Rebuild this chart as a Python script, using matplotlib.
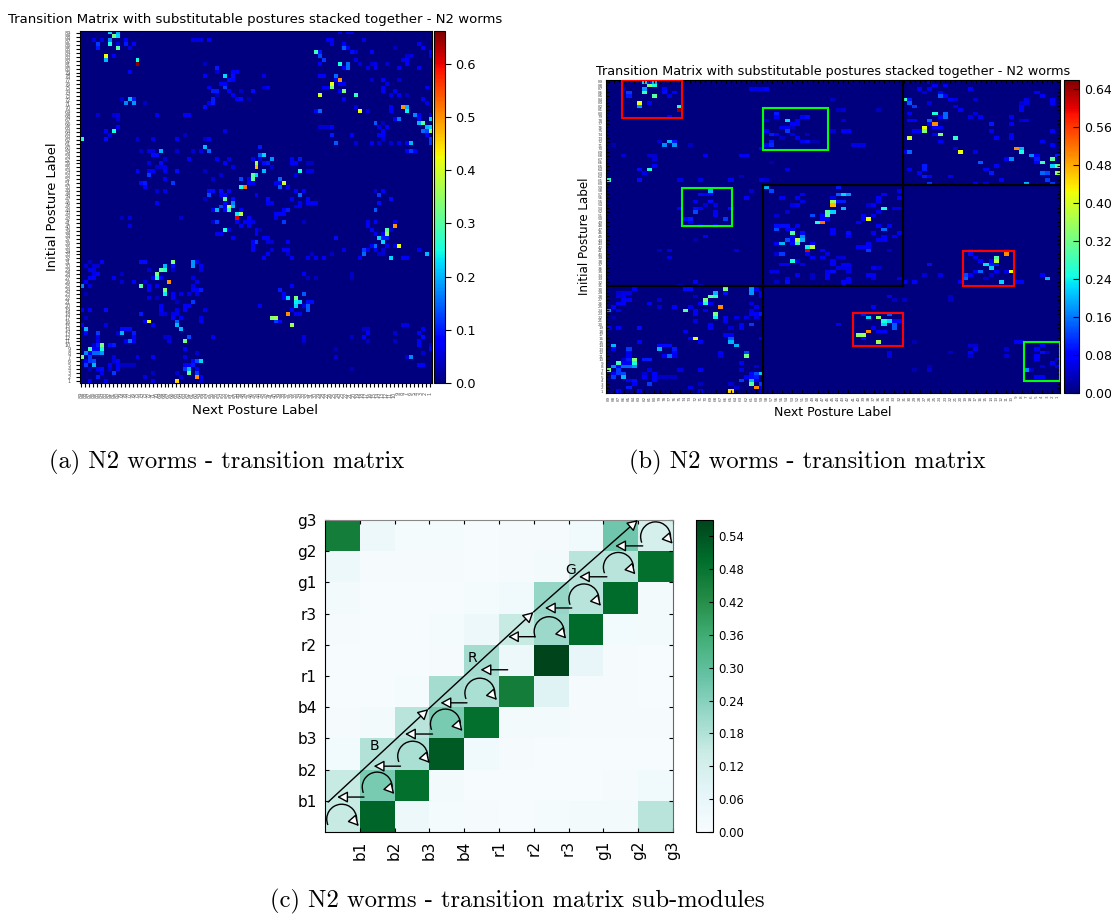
import matplotlib
matplotlib.use('Agg')
import matplotlib.pyplot as plt
from matplotlib.patches import Arc, Rectangle
import numpy as np

W, H = 1111, 914
N = 89

# (row from the top, column, probability)
a_top_left = [
    (0,7,.22),(0,9,.2),(1,8,.33),(1,9,.22),(2,7,.17),(3,7,.25),(3,4,.12),(4,4,.1),(4,9,.3),
    (2,11,.08),(3,11,.1),(3,13,.08),(3,9,.06),(4,12,.06),(2,3,.06),(2,5,.06),(6,6,.42),(7,6,.2),
    (6,8,.07),(7,14,.25),(8,14,.65),(10,12,.08),(17,12,.2),(17,13,.1),(17,10,.05),(18,11,.17),
    (18,13,.18),(18,16,.04),(21,4,.05),(21,9,.06),(21,8,.05),(21,19,.07),(21,26,.08),(21,27,.08),
    (22,9,.05),(24,9,.08),(25,6,.08),(25,8,.25),(26,7,.06),(27,0,.27),(27,6,.09),(27,14,.05),
    (27,18,.06),(27,24,.08),(26,26,.04),(2,28,.06),(2,29,.06),(2,30,.06),
]
a_top_mid = [
    (2,32,.08),(8,31,.04),(9,34,.1),(10,34,.05),(10,38,.08),(10,39,.08),(11,36,.22),(11,31,.08),
    (11,38,.09),(11,46,.06),(12,37,.09),(12,38,.08),(13,35,.08),(13,36,.07),(14,36,.12),(14,32,.08),
    (14,46,.05),(14,47,.08),(15,33,.1),(15,34,.1),(15,37,.08),(15,43,.09),(15,40,.04),(16,38,.07),
    (16,34,.04),(17,39,.08),(17,40,.09),(17,42,.03),(17,33,.1),(18,33,.1),(18,32,.07),(19,31,.09),
    (25,36,.06),(27,31,.05),(27,32,.07),
]
a_top_right = [
    (5,59,.28),(5,60,.1),(6,60,.13),(7,61,.12),(8,60,.08),(8,65,.25),(8,67,.15),(9,67,.15),(9,66,.07),
    (11,64,.15),(11,60,.08),(11,61,.08),(12,65,.5),(12,64,.08),(13,63,.42),(13,65,.07),(13,66,.07),
    (14,63,.33),(14,61,.07),(14,62,.07),(15,66,.33),(15,65,.08),(16,60,.4),(16,69,.27),(17,66,.07),
    (20,70,.42),(20,60,.15),(20,59,.08),(19,69,.06),(20,72,.06),(0,65,.07),(0,67,.07),(0,68,.07),
    (2,62,.07),(2,63,.07),(2,71,.06),(3,66,.08),(4,66,.14),(4,67,.08),(5,68,.09),(5,69,.06),(5,73,.08),
    (3,63,.07),(7,69,.06),(8,70,.05),(8,73,.05),(9,74,.07),(9,72,.06),(8,74,.06),(8,77,.05),(9,80,.07),
    (7,81,.06),(7,82,.07),(6,83,.06),(6,82,.05),(3,85,.07),(4,86,.08),(4,79,.04),(9,85,.07),(8,82,.07),
    (5,88,.08),(6,88,.06),(12,76,.08),(13,77,.06),(12,80,.05),(12,73,.05),(14,76,.07),(15,76,.07),
    (15,79,.07),(16,82,.04),(16,78,.06),(16,80,.07),(14,87,.07),(19,78,.08),(20,78,.07),(19,81,.5),
    (19,82,.2),(20,82,.24),(17,86,.07),(18,87,.06),(21,84,.17),(21,85,.08),(21,88,.06),(22,80,.16),
    (22,79,.08),(22,85,.09),(22,88,.22),(23,74,.14),(23,85,.2),(23,86,.3),(24,77,.08),(23,76,.04),
    (24,87,.2),(24,88,.22),(24,63,.08),(24,60,.05),(24,61,.05),(24,62,.05),(24,75,.06),(25,86,.15),
    (25,87,.13),(25,88,.35),(25,76,.08),(26,75,.08),(26,76,.08),(26,63,.1),(26,68,.07),(26,87,.08),
    (27,88,.12),(28,64,.14),(28,69,.05),(28,73,.07),(28,75,.05),(27,76,.05),(28,78,.05),(28,80,.06),
    (28,83,.2),(28,82,.07),(30,83,.12),(30,84,.08),(30,82,.07),(28,88,.12),
]
a_mid_left = [
    (29,31,.2),(30,32,.15),(30,20,.2),(31,19,.09),(31,18,.09),(30,17,.06),(30,18,.06),(30,15,.04),
    (30,24,.05),(30,28,.05),(30,30,.06),(32,34,.07),(32,37,.06),(32,27,.08),(32,21,.05),(33,17,.06),
    (33,20,.09),(34,21,.06),(34,19,.05),(34,20,.05),(33,36,.08),(34,38,.06),(35,14,.07),(35,17,.08),
    (35,18,.08),(35,21,.07),(35,24,.09),(35,31,.04),(36,17,.12),(37,33,.05),(36,35,.05),(38,15,.09),
    (38,16,.1),(38,23,.12),(37,21,.07),(39,16,.07),(40,19,.05),(40,21,.06),(40,32,.09),(40,33,.09),
    (40,35,.09),(40,37,.07),(41,32,.13),(41,35,.07),(41,36,.08),(42,36,.3),(42,38,.09),(42,31,.04),
    (43,19,.08),(43,36,.08),(43,38,.17),(44,37,.38),(44,38,.2),(44,35,.13),(44,36,.07),(45,34,.2),
    (45,33,.08),(45,37,.27),(45,40,.08),(45,36,.09),(46,39,.24),(46,40,.38),(47,39,.6),(47,42,.08),
    (47,12,.06),(47,10,.04),(47,25,.05),(48,33,.05),(48,34,.12),(48,39,.08),(48,42,.07),(48,43,.06),
    (49,12,.06),(49,40,.08),(49,42,.08),(50,36,.25),(50,37,.06),(51,34,.07),(51,35,.07),(52,38,.07),
]
a_mid_mid = [
    (29,45,.1),(31,45,.14),(31,46,.22),(32,48,.18),(32,45,.06),(32,43,.07),(33,44,.36),(34,44,.47),
    (33,46,.09),(33,47,.1),(35,46,.2),(34,48,.05),(36,43,.3),(36,44,.22),(37,43,.3),(37,40,.13),
    (37,42,.08),(37,50,.15),(38,51,.4),(38,50,.07),(38,43,.07),(38,42,.08),(38,49,.07),(39,40,.25),
    (39,41,.52),(39,50,.14),(39,52,.07),(35,55,.25),(32,55,.1),(32,53,.08),(33,54,.08),(33,53,.07),
    (33,57,.04),(33,58,.04),(35,57,.06),(35,58,.06),(36,54,.06),(41,44,.07),(41,55,.15),(40,54,.08),
    (40,56,.08),(42,47,.09),(42,53,.07),(42,57,.08),(43,58,.07),(43,59,.07),(43,57,.07),(43,55,.07),
    (43,47,.07),(43,48,.07),(44,54,.06),(44,55,.07),(45,51,.08),(45,52,.1),(46,49,.08),(46,50,.08),
    (46,51,.08),(47,49,.06),(48,51,.12),(48,56,.04),(48,41,.07),(50,44,.07),(50,45,.03),(51,44,.08),
    (52,46,.07),(52,47,.07),(53,43,.08),(53,44,.12),(53,47,.06),(53,48,.05),(53,52,.07),(54,43,.08),
    (55,43,.08),(55,51,.07),(55,52,.07),(55,48,.05),(56,47,.08),(56,52,.05),(57,46,.08),(57,53,.07),
    (57,57,.07),(57,59,.07),(57,61,.08),(56,58,.04),(56,63,.04),(52,64,.09),(55,66,.06),
]
a_right_low = [
    (41,75,.12),(43,75,.09),(40,76,.08),(42,78,.09),(45,74,.14),(40,74,.05),(48,72,.07),(48,74,.08),
    (48,79,.07),(49,72,.08),(49,79,.5),(50,73,.08),(50,77,.3),(50,78,.05),(51,77,.35),(51,74,.07),
    (51,76,.08),(52,75,.22),(52,76,.1),(52,77,.1),(53,76,.22),(54,73,.08),(54,74,.15),(54,77,.07),
    (54,79,.06),(54,80,.42),(55,71,.12),(55,72,.08),(55,74,.08),(55,76,.05),(55,85,.07),(56,71,.15),
    (56,75,.05),(56,76,.05),(56,87,.2),(57,78,.22),(57,70,.07),(57,81,.08),(57,82,.08),(74,81,.06),
    (74,82,.06),(75,86,.07),(75,71,.04),(75,72,.05),(76,85,.08),(76,72,.08),(76,79,.05),(77,71,.08),
    (77,86,.09),(78,72,.04),(78,79,.04),(78,85,.08),(79,85,.08),(79,88,.05),(80,88,.08),(81,86,.05),
    (82,83,.17),(82,82,.05),(84,85,.08),(84,86,.08),(77,68,.04),(82,64,.05),(85,68,.03),(80,64,.03),
]
a_low_mid = [
    (61,56,.07),(62,57,.04),(62,59,.04),(61,68,.04),(62,68,.04),(64,53,.08),(65,50,.1),(66,51,.08),
    (66,56,.14),(67,52,.22),(67,54,.33),(67,51,.07),(68,54,.24),(68,55,.22),(68,57,.09),(68,58,.09),
    (69,54,.22),(69,56,.06),(69,57,.14),(70,57,.14),(70,53,.08),(69,45,.07),(71,52,.5),(71,54,.06),
    (71,55,.08),(72,48,.34),(72,49,.36),(73,49,.12),(73,50,.09),(74,53,.36),(77,56,.06),(78,56,.05),
    (50,44,.07),(50,45,.03),(52,64,.09),
]
a_low_left = [
    (58,15,.09),(58,16,.09),(58,23,.33),(58,28,.18),(58,29,.07),(58,5,.07),(58,2,.04),(59,1,.05),
    (59,3,.05),(59,4,.05),(59,21,.2),(59,23,.09),(59,28,.18),(59,30,.07),(60,2,.06),(60,3,.06),
    (60,20,.3),(60,21,.26),(60,17,.05),(60,23,.05),(60,30,.06),(61,3,.06),(61,4,.08),(61,19,.33),
    (61,10,.04),(62,2,.08),(62,3,.08),(62,8,.07),(62,18,.08),(62,19,.26),(62,20,.08),(62,28,.06),
    (63,1,.08),(63,10,.05),(63,13,.08),(63,16,.06),(63,22,.5),(63,29,.06),(64,0,.17),(64,2,.06),
    (64,15,.3),(64,17,.08),(64,19,.07),(64,28,.06),(65,17,.08),(65,21,.33),(65,30,.1),(65,28,.07),
    (65,29,.07),(66,21,.24),(66,23,.07),(66,25,.06),(66,27,.06),(66,29,.06),(66,1,.03),(67,17,.06),
    (67,23,.07),(67,19,.04),(68,28,.12),(68,24,.04),(69,20,.08),(69,27,.08),(69,26,.08),(70,0,.08),
    (70,2,.08),(70,6,.09),(70,20,.08),(70,24,.06),(70,26,.08),(70,31,.06),(71,15,.1),(71,20,.06),
    (71,21,.05),(71,23,.06),(71,24,.06),(72,1,.04),(72,23,.08),(72,25,.08),(72,30,.06),(73,16,.08),
    (73,17,.42),(73,24,.14),(73,30,.07),(74,0,.07),(74,6,.06),(74,18,.08),(74,24,.2),(75,1,.2),
    (75,10,.09),(75,11,.09),(75,12,.09),(75,25,.2),(76,1,.08),(76,4,.12),(76,10,.2),(76,13,.1),
    (76,9,.05),(77,4,.06),(77,13,.08),(77,21,.05),(77,22,.05),(77,27,.13),(77,33,.07),(78,4,.07),
    (78,11,.07),(78,12,.15),(78,13,.07),(78,22,.06),(78,26,.32),(79,3,.05),(79,4,.1),(79,5,.33),
    (79,7,.09),(79,8,.1),(80,3,.07),(80,2,.28),(80,4,.07),(80,5,.25),(80,26,.07),(81,1,.17),(81,2,.08),
    (81,3,.15),(81,4,.15),(81,5,.18),(81,29,.05),(82,0,.33),(82,2,.12),(82,8,.06),(82,14,.06),
    (82,18,.08),(82,26,.06),(83,1,.07),(83,2,.12),(83,3,.13),(83,9,.08),(83,8,.05),(83,28,.09),
    (83,29,.13),(83,30,.22),(84,1,.12),(84,3,.2),(84,7,.07),(84,9,.07),(84,10,.04),(84,11,.04),
    (84,12,.04),(84,13,.04),(84,26,.07),(84,27,.08),(84,28,.1),(85,4,.07),(85,5,.09),(85,7,.05),
    (85,9,.08),(85,2,.04),(85,26,.12),(85,27,.2),(85,29,.07),(86,5,.07),(86,8,.12),(86,27,.3),
    (86,29,.12),(86,18,.04),(86,24,.05),(87,4,.1),(87,29,.5),(87,30,.08),(87,16,.06),(87,25,.05),
    (88,2,.07),(88,6,.07),(88,24,.45),(88,18,.06),(88,30,.05),
]
a_cells = [a_top_left, a_top_mid, a_top_right, a_mid_left, a_mid_mid, a_right_low, a_low_mid, a_low_left]

# same kind of triples for panel (b), reordered postures
b_block_11 = [
    (0,7,.22),(0,8,.1),(0,9,.2),(1,8,.33),(1,9,.25),(2,7,.18),(2,11,.08),(2,3,.03),(3,4,.12),(3,7,.28),
    (3,11,.09),(3,13,.08),(4,4,.1),(4,9,.3),(4,12,.06),(6,6,.42),(6,8,.08),(7,6,.18),(7,14,.25),
    (8,14,.65),(10,12,.08),(17,10,.05),(17,12,.2),(17,13,.1),(18,11,.17),(18,13,.18),(18,16,.04),
    (18,1,.03),(21,3,.05),(21,8,.05),(21,9,.05),(21,19,.07),(21,26,.08),(21,27,.08),(22,9,.05),
    (24,9,.08),(25,6,.09),(25,8,.25),(26,7,.06),(28,0,.27),(28,6,.09),(28,14,.06),(28,18,.06),
    (28,24,.08),(27,26,.04),(2,28,.06),(2,29,.06),(2,30,.06),
    (31,20,.2),(32,18,.09),(32,19,.08),(32,20,.08),(34,17,.07),(34,20,.09),(35,21,.06),(35,19,.05),
    (36,17,.09),(36,18,.08),(36,24,.09),(36,14,.07),(37,17,.13),(37,21,.07),(38,21,.07),(39,15,.09),
    (39,16,.1),(39,23,.12),(40,16,.07),(41,18,.05),(41,21,.06),(44,19,.08),(45,17,.03),(33,27,.08),
    (31,28,.05),(48,12,.06),(48,10,.04),(48,25,.05),(50,12,.06),(57,17,.08),(58,18,.05),(58,14,.04),
]
b_block_12 = [
    (2,31,.08),(9,33,.1),(10,33,.07),(10,38,.08),(10,39,.09),(11,35,.22),(11,37,.08),(11,31,.05),
    (12,36,.08),(12,37,.07),(13,34,.07),(13,35,.08),(13,36,.04),(14,35,.12),(14,31,.08),(15,33,.08),
    (15,32,.1),(15,36,.06),(15,39,.04),(16,37,.07),(16,34,.04),(17,38,.07),(17,39,.09),(17,32,.1),
    (17,40,.03),(17,41,.03),(18,32,.11),(18,31,.08),(19,30,.08),(5,44,.04),(8,45,.04),(14,44,.05),
    (14,46,.07),(8,46,.05),(8,53,.04),(11,46,.05),(14,47,.07),(18,48,.06),(18,49,.06),(18,50,.06),
    (25,35,.06),(23,32,.03),(28,31,.05),(28,30,.06),
]
b_block_13 = [
    (0,63,.05),(1,64,.07),(1,66,.07),(2,61,.07),(2,63,.07),(2,71,.07),(3,65,.08),(3,62,.05),(4,65,.14),
    (4,66,.08),(5,67,.08),(5,68,.06),(5,72,.05),(5,58,.28),(5,59,.1),(6,59,.14),(7,60,.12),(6,63,.06),
    (7,68,.06),(8,69,.07),(9,59,.07),(9,64,.25),(9,66,.15),(10,66,.15),(10,65,.07),(9,72,.06),(10,73,.07),
    (10,71,.06),(11,63,.15),(11,59,.08),(11,60,.08),(12,64,.5),(12,63,.08),(13,62,.42),(13,64,.07),
    (13,65,.07),(14,62,.33),(14,60,.07),(14,61,.07),(15,65,.33),(15,64,.07),(16,59,.4),(16,68,.27),
    (17,65,.07),(20,69,.42),(20,59,.15),(20,58,.08),(19,68,.05),(20,72,.06),(12,75,.1),(12,79,.07),
    (11,82,.06),(11,81,.05),(10,79,.07),(16,76,.08),(15,79,.07),(16,79,.08),(14,75,.06),(14,87,.07),
    (17,85,.07),(18,87,.07),(5,82,.06),(6,81,.05),(6,82,.06),(7,81,.07),(8,81,.08),(3,84,.07),(4,85,.08),
    (5,87,.08),(6,87,.07),(19,80,.5),(19,81,.2),(20,81,.25),(22,78,.08),(22,79,.17),(21,83,.17),(22,84,.1),
    (21,84,.08),(22,87,.3),(23,85,.28),(23,84,.08),(23,73,.14),(24,76,.08),(24,87,.22),(24,88,.3),(25,74,.08),
    (26,75,.1),(26,85,.15),(26,86,.13),(26,88,.35),(28,86,.12),(29,82,.2),(25,59,.07),(24,62,.1),(25,62,.1),
    (26,61,.07),(27,62,.1),(27,63,.08),(27,67,.07),(29,63,.12),(29,72,.07),(29,74,.05),(28,77,.07),
    (29,87,.12),(21,88,.1),(55,65,.06),(52,63,.09),(57,69,.07),(57,80,.08),(57,81,.08),(56,86,.2),
    (55,85,.07),(57,58,.08),(57,60,.08),(55,62,.05),
    (48,71,.07),(48,73,.07),(48,78,.08),(49,71,.09),(49,78,.5),(50,72,.08),(51,73,.07),(50,76,.3),(51,76,.38),
    (51,75,.08),(52,74,.23),(52,75,.1),(52,76,.1),(53,75,.22),(54,72,.08),(54,73,.15),(54,76,.07),(54,78,.06),
    (54,79,.42),(55,71,.08),(55,70,.13),(55,75,.05),(56,70,.15),(56,74,.05),(57,77,.22),
]
b_block_22 = [
    (30,31,.2),(31,32,.13),(30,45,.1),(32,45,.14),(32,46,.22),(32,47,.18),(33,44,.06),(33,34,.07),(33,37,.07),
    (32,38,.07),(34,44,.36),(35,44,.47),(34,45,.1),(34,46,.1),(35,36,.06),(35,37,.08),(34,38,.06),(36,46,.2),
    (37,43,.3),(37,44,.22),(38,43,.3),(38,40,.13),(38,42,.08),(37,35,.05),(38,33,.05),(39,42,.07),(39,43,.07),
    (40,41,.25),(40,42,.52),(41,33,.09),(41,34,.09),(41,35,.09),(41,37,.07),(42,33,.13),(42,35,.07),(42,36,.08),
    (42,44,.07),(43,44,.07),(43,36,.3),(43,38,.09),(43,47,.09),(44,36,.07),(44,38,.17),(44,47,.07),(45,37,.38),
    (45,38,.2),(45,35,.13),(45,36,.07),(46,34,.2),(46,36,.09),(46,37,.27),(46,40,.08),(46,33,.08),(47,39,.24),
    (47,40,.38),(48,39,.6),(48,42,.08),(49,43,.06),(49,33,.05),(49,34,.12),(49,39,.08),(50,42,.07),(50,40,.08),
    (51,36,.25),(51,37,.06),(51,44,.07),(52,34,.07),(52,35,.07),(52,38,.06),(52,44,.08),(53,46,.06),(53,45,.06),
    (54,32,.06),(54,33,.06),(55,37,.07),(54,43,.07),(54,44,.09),(54,47,.06),(55,43,.08),(56,43,.08),(55,40,.04),
    (56,40,.04),(57,33,.04),(57,35,.09),(56,35,.07),(57,47,.07),(58,46,.07),
    (34,53,.06),(36,54,.25),(33,53,.08),(32,54,.08),(35,51,.05),(35,52,.07),(33,57,.07),(31,57,.06),(36,57,.06),
    (36,56,.06),(37,53,.06),(38,50,.08),(38,52,.07),(39,51,.42),(39,50,.07),(40,49,.07),(42,54,.15),(41,53,.08),
    (41,55,.08),(43,52,.07),(43,57,.08),(44,54,.07),(44,56,.07),(46,51,.08),(45,53,.07),(45,54,.07),(47,49,.08),
    (47,50,.08),(47,51,.08),(48,51,.12),(48,55,.04),(50,45,.05),(50,46,.05),(52,46,.07),(52,47,.07),(53,47,.06),
    (53,52,.07),(53,53,.05),(55,51,.07),(55,52,.07),(56,52,.06),(56,47,.08),(57,46,.08),(56,57,.06),
]
b_block_23 = [
    (61,55,.07),(62,56,.04),(62,58,.04),(61,67,.04),(62,67,.04),(64,52,.08),(66,50,.1),(67,51,.22),(67,53,.34),
    (66,55,.14),(68,54,.25),(68,55,.22),(68,56,.09),(68,57,.09),(69,54,.22),(69,56,.14),(70,56,.14),(69,45,.07),
    (70,52,.08),(71,51,.5),(71,53,.07),(71,54,.08),(72,49,.34),(72,50,.36),(73,50,.09),(74,53,.36),(75,71,.05),
    (75,72,.05),(76,72,.08),(77,71,.08),(78,71,.05),(74,80,.07),(74,81,.07),(76,78,.05),(78,78,.05),(77,55,.06),
    (78,55,.06),(77,67,.04),(74,60,.03),(75,85,.07),(76,84,.08),(77,85,.09),(77,86,.05),(78,84,.08),(79,84,.08),
    (80,87,.07),(81,85,.05),(81,88,.06),(82,82,.17),(82,83,.05),(84,84,.08),(84,85,.08),(81,63,.03),(82,60,.03),
    (82,63,.05),(79,88,.05),
]
b_block_31 = [
    (59,5,.07),(59,15,.09),(59,16,.09),(59,23,.33),(59,28,.18),(59,29,.07),(60,2,.05),(60,3,.06),(60,4,.06),
    (60,21,.2),(60,23,.09),(60,28,.18),(60,30,.07),(61,2,.06),(61,3,.06),(61,20,.3),(61,21,.27),(61,17,.05),
    (61,30,.06),(62,3,.07),(62,4,.08),(62,19,.33),(62,10,.05),(63,2,.08),(63,3,.08),(63,8,.08),(63,18,.08),
    (63,19,.25),(63,20,.08),(63,28,.06),(64,1,.08),(64,13,.08),(64,10,.05),(64,22,.5),(64,16,.06),(64,29,.06),
    (65,0,.17),(65,2,.06),(65,15,.3),(65,17,.08),(65,19,.07),(65,28,.06),(66,17,.08),(66,21,.33),(66,30,.1),
    (66,28,.07),(66,29,.07),(67,21,.24),(67,23,.07),(67,25,.06),(67,27,.06),(67,29,.06),(67,1,.03),(68,17,.06),
    (68,23,.07),(69,28,.12),(69,20,.08),(69,26,.08),(70,24,.05),(70,0,.08),(70,2,.08),(70,6,.09),(70,20,.08),
    (70,26,.08),(71,15,.07),(72,23,.08),(72,24,.07),(73,17,.42),(73,16,.08),(73,24,.14),(73,30,.07),(74,18,.08),
    (74,24,.2),(74,6,.08),(75,1,.2),(75,25,.2),(75,10,.09),(75,11,.09),(75,12,.09),(76,4,.12),(76,1,.08),(76,10,.2),
    (76,13,.1),(77,22,.07),(77,4,.06),(77,13,.08),(77,27,.13),(78,4,.07),(78,11,.07),(78,12,.15),(78,13,.07),
    (78,22,.06),(78,27,.32),(79,5,.33),(79,3,.05),(79,4,.1),(79,7,.1),(79,8,.1),(80,26,.07),(80,5,.25),(80,2,.28),
    (80,3,.07),(80,4,.07),(81,1,.17),(81,3,.15),(81,4,.15),(81,5,.18),(81,2,.08),(81,29,.05),(82,0,.33),(82,2,.12),
    (82,8,.06),(82,14,.06),(82,18,.08),(82,26,.06),(83,1,.07),(83,2,.12),(83,3,.13),(83,7,.05),(83,9,.08),(83,28,.09),
    (83,29,.13),(83,30,.22),(84,1,.12),(84,3,.2),(84,7,.07),(84,9,.07),(84,10,.04),(84,11,.04),(84,12,.04),(84,13,.04),
    (84,27,.07),(84,28,.09),(84,29,.1),(85,4,.07),(85,5,.09),(85,9,.08),(85,26,.12),(85,28,.2),(85,29,.07),(86,5,.07),
    (86,8,.12),(86,28,.3),(86,30,.12),(86,18,.04),(86,24,.05),(87,4,.1),(87,29,.5),(87,30,.08),(87,16,.06),(87,25,.05),
    (88,2,.07),(88,6,.07),(88,24,.45),(88,18,.06),(88,30,.05),
]
b_cells = [b_block_11, b_block_12, b_block_13, b_block_22, b_block_23, b_block_31]

# panel (c), rows go bottom to top
sub_labels = ['b1', 'b2', 'b3', 'b4', 'r1', 'r2', 'r3', 'g1', 'g2', 'g3']
sub_row_0 = [.15, .51, .04, .015, .01, .006, .012, .02, .02, .17]
sub_row_1 = [.15, .26, .49, .02, .005, .005, .003, .005, .01, .03]
sub_row_2 = [.025, .18, .19, .53, .03, .01, .005, .005, .005, .005]
sub_row_3 = [.01, .02, .17, .26, .49, .02, .02, .01, .01, .01]
sub_row_4 = [.003, .003, .015, .2, .19, .46, .09, .01, .01, .005]
sub_row_5 = [.003, .003, .005, .008, .2, .04, .57, .06, .01, .005]
sub_row_6 = [.01, .003, .005, .012, .04, .15, .21, .5, .025, .02]
sub_row_7 = [.022, .003, .005, .005, .012, .03, .22, .17, .5, .02]
sub_row_8 = [.04, .01, .008, .008, .006, .008, .02, .17, .17, .49]
sub_row_9 = [.46, .04, .015, .015, .005, .01, .01, .03, .27, .12]
sub_rows = [sub_row_0, sub_row_1, sub_row_2, sub_row_3, sub_row_4,
            sub_row_5, sub_row_6, sub_row_7, sub_row_8, sub_row_9]

posture_labels = [str(i) for i in range(N, 0, -1)]
cb_ticks_a = [0.0, 0.1, 0.2, 0.3, 0.4, 0.5, 0.6]
cb_ticks_b = [0.0, 0.08, 0.16, 0.24, 0.32, 0.40, 0.48, 0.56, 0.64]
cb_ticks_c = [0.0, 0.06, 0.12, 0.18, 0.24, 0.30, 0.36, 0.42, 0.48, 0.54]
title = 'Transition Matrix with substitutable postures stacked together - N2 worms'


def box(fig, x0, y0, x1, y1):
    return fig.add_axes([x0 / W, 1 - y1 / H, (x1 - x0) / W, (y1 - y0) / H])


def label(fig, x, y, s, **kw):
    fig.text(x / W, 1 - y / H, s, ha='center', va='center', **kw)


def to_matrix(groups):
    m = np.zeros((N, N))
    for cells in groups:
        for r, c, v in cells:
            m[r, c] = v
    return m


def heat(ax, m, vmax, tick_dir, tick_len, size, pad):
    im = ax.imshow(m, cmap='jet', vmin=0, vmax=vmax, aspect='auto', interpolation='nearest')
    ax.set_xticks(range(N))
    ax.set_yticks(range(N))
    ax.set_xticklabels(posture_labels, rotation=90, fontsize=size, color='#555555')
    ax.set_yticklabels(posture_labels, fontsize=size, color='#555555')
    ax.tick_params(direction=tick_dir, length=tick_len, width=0.8, pad=pad)
    return im


fig = plt.figure(figsize=(W / 100, H / 100), dpi=100)

# panel a
ax = box(fig, 79.5, 31, 431.5, 383)
im = heat(ax, to_matrix(a_cells), 0.662, 'out', 3.2, 3.6, 3)
cax = box(fig, 434, 31, 445, 383)
cb = fig.colorbar(im, cax=cax, ticks=cb_ticks_a)
cb.ax.tick_params(labelsize=9.3, length=4)
label(fig, 255, 19, title, fontsize=9.5)
label(fig, 255, 410, 'Next Posture Label', fontsize=9.6)
label(fig, 52, 207, 'Initial Posture Label', fontsize=9.4, rotation=90)

# panel b
ax = box(fig, 606, 80, 1060, 393)
im = heat(ax, to_matrix(b_cells), 0.659, 'in', 2, 3, 2)
ax.tick_params(top=True, right=True)
for x0, x1, y0, y1 in [(30.28, 88.5, 29.35, 29.35), (-0.5, 57.72, 58.07, 58.07),
                       (57.72, 57.72, -0.5, 58.07), (30.28, 30.28, 29.35, 88.5)]:
    ax.plot([x0, x1], [y0, y1], color='black', lw=1.6)
for x, y, w, h, col in [(2.58, -0.5, 11.76, 10.8, 'red'), (30.22, 7.46, 12.8, 11.94, 'lime'),
                        (14.4, 30.2, 9.8, 10.8, 'lime'), (69.5, 48.03, 10, 10.04, 'red'),
                        (47.86, 65.66, 9.86, 9.49, 'red'), (81.44, 73.9, 7.06, 11.1, 'lime')]:
    ax.add_patch(Rectangle((x, y), w, h, fill=False, ec=col, lw=1.5, zorder=5))
ax.set_xlim(-0.5, 88.5)
ax.set_ylim(88.5, -0.5)
cax = box(fig, 1064, 80, 1079, 393)
cb = fig.colorbar(im, cax=cax, ticks=cb_ticks_b)
cb.ax.tick_params(labelsize=9, direction='in', length=4)
label(fig, 833, 71, title, fontsize=9.15)
label(fig, 833, 412, 'Next Posture Label', fontsize=9)
label(fig, 584, 236, 'Initial Posture Label', fontsize=8.6, rotation=90)

# panel c
ax = box(fig, 325, 520, 673, 832)
im = ax.pcolormesh(np.array(sub_rows), cmap='BuGn', vmin=0, vmax=0.57)
ax.set_xticks(range(1, 11))
ax.set_yticks(range(1, 11))
ax.set_xticklabels(sub_labels, rotation=90, fontsize=11)
ax.set_yticklabels(sub_labels, fontsize=11)
ax.tick_params(direction='in', length=3, top=True, right=True, pad=6)
ax.spines['top'].set_color('#888888')
ax.spines['right'].set_color('#666666')


def arrow(head, tail):
    ax.annotate('', xy=head, xytext=tail,
                arrowprops=dict(arrowstyle='-|>,head_length=0.7,head_width=0.38', fc='white', ec='black',
                                lw=1.0, shrinkA=0, shrinkB=0, mutation_scale=9))


for tail_x, head_x, y in [(1.12, .35, 1.12), (2.17, 1.4, 2.11), (3.09, 2.3, 3.14), (4.08, 3.32, 4.14),
                          (5.25, 4.47, 5.2), (6.03, 5.26, 6.26), (7.09, 6.32, 7.18),
                          (8.1, 7.3, 8.18), (9.13, 8.34, 9.17)]:
    arrow((head_x, y), (tail_x, y))

for cx, cy in [(.48, .41), (1.5, 1.44), (2.52, 2.43), (3.46, 3.46), (4.45, 4.45),
               (6.44, 6.42), (7.44, 7.47), (8.43, 8.48), (9.5, 9.46)]:
    ax.add_patch(Arc((cx, cy), .86, .96, theta1=-15, theta2=205, color='black', lw=1))
    arrow((cx + .49, cy - .22), (cx + .38, cy - .08))

for head, tail in [((2.97, 3.94), (.09, .96)), ((5.99, 7.05), (2.97, 3.94)), ((8.99, 10.0), (5.99, 7.05))]:
    arrow(head, tail)
ax.text(1.42, 2.76, 'B', fontsize=10, ha='center', va='center')
ax.text(4.23, 5.58, 'R', fontsize=10, ha='center', va='center')
ax.text(7.07, 8.39, 'G', fontsize=10, ha='center', va='center')

cax = box(fig, 695.5, 520, 713, 832)
cb = fig.colorbar(im, cax=cax, ticks=cb_ticks_c)
cb.ax.tick_params(labelsize=8.4, direction='in', length=3)

label(fig, 227, 462, '(a) N2 worms - transition matrix', fontsize=17.7, family='cmr10')
label(fig, 807, 462, '(b) N2 worms - transition matrix', fontsize=17.7, family='cmr10')
label(fig, 517, 901, '(c) N2 worms - transition matrix sub-modules', fontsize=17.7, family='cmr10')

fig.savefig('out.png', dpi=100)
